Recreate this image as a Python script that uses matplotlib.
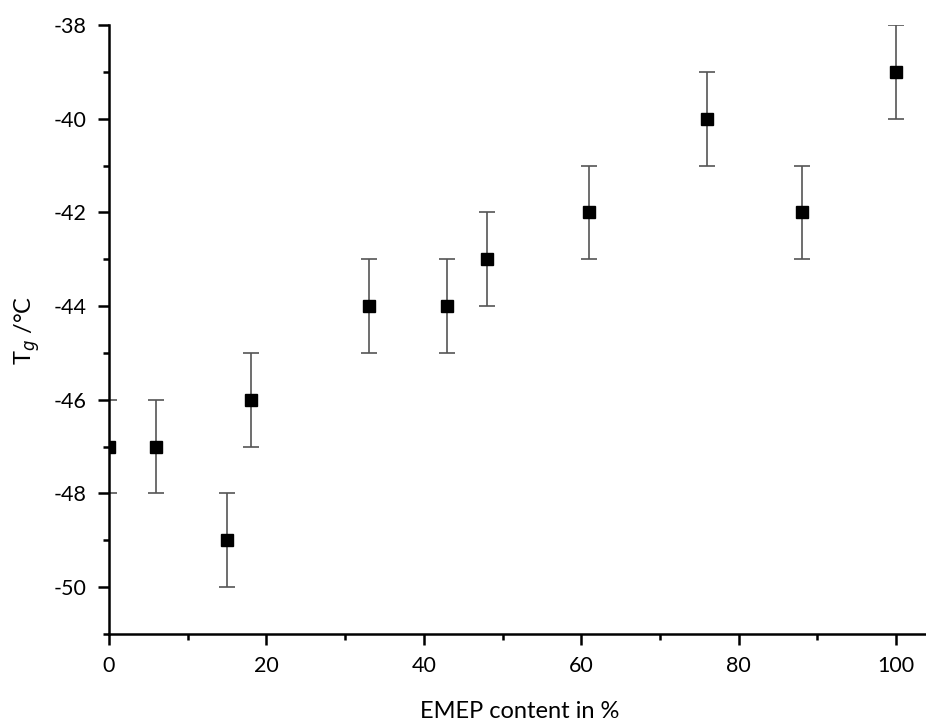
import matplotlib
matplotlib.use("Agg")
import matplotlib.pyplot as plt
from matplotlib.ticker import MultipleLocator

plt.rcParams['font.family'] = ['Lato', 'DejaVu Sans']
plt.rcParams['axes.unicode_minus'] = False

emep = [0, 6, 15, 18, 33, 43, 48, 61, 76, 88, 100]
tg = [-47, -47, -49, -46, -44, -44, -43, -42, -40, -42, -39]
err = [1, 1, 1, 1, 1, 1, 1, 1, 1, 1, 1]

fig = plt.figure(figsize=(9.26, 7.26), dpi=100)
ax = fig.add_axes([109/926, 1-634/726, 1-109/926, (634-25)/726])

ax.errorbar(emep, tg, yerr=err, fmt='s', color='black', markersize=8.5,
            ecolor='#555555', elinewidth=1.2, capsize=6, capthick=1.2, zorder=1)

ax.set_xlim(0, 103.8)
ax.set_ylim(-51, -38)
ax.xaxis.set_major_locator(MultipleLocator(20))
ax.xaxis.set_minor_locator(MultipleLocator(10))
ax.yaxis.set_major_locator(MultipleLocator(2))
ax.yaxis.set_minor_locator(MultipleLocator(1))

for s in ['top', 'right']:
    ax.spines[s].set_visible(False)
for s in ['left', 'bottom']:
    ax.spines[s].set_linewidth(1.8)
    ax.spines[s].set_zorder(5)

ax.tick_params(which='major', direction='out', length=8, width=1.8, labelsize=15.5, pad=8)
ax.tick_params(which='minor', direction='out', length=4.5, width=1.8)

ax.set_xlabel('EMEP content in %', fontsize=17)
ax.set_ylabel(r'T$_{g}$ /°C', fontsize=17)
ax.xaxis.set_label_coords((520-109)/817, (634-712)/609)
ax.xaxis.label.set_va('center')
ax.yaxis.set_label_coords((27-109)/817, (634-330)/609)
ax.yaxis.label.set_va('center')

fig.savefig('out.png', dpi=100)
